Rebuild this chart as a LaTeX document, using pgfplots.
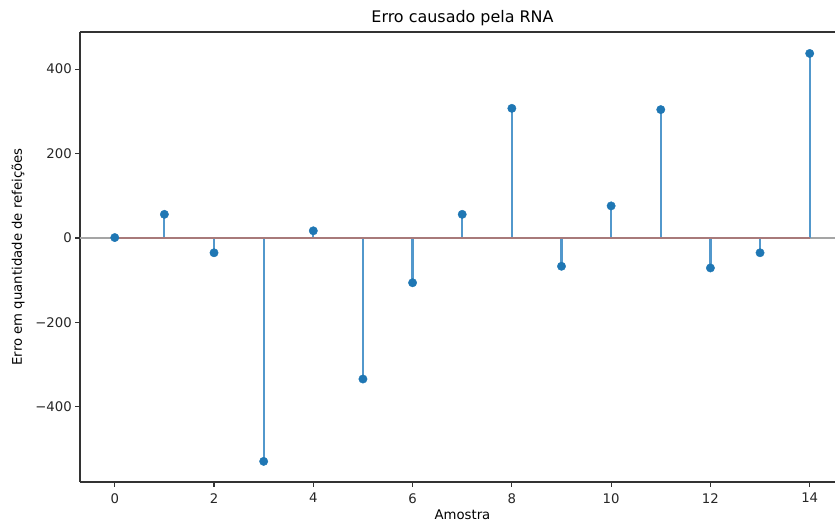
\documentclass[border=0pt]{standalone}
\usepackage{fontspec}
\setmainfont{DejaVu Sans}
\usepackage{pgfplots}
\usepackage{pgfplotstable}
\pgfplotsset{compat=1.18}
\definecolor{stemblue}{RGB}{82,152,204}
\definecolor{mpblue}{RGB}{31,119,180}
\definecolor{baseln}{RGB}{168,122,122}
\definecolor{zeroln}{RGB}{165,165,165}

\pgfplotstableread{
x y
0 1
1 56
2 -35
3 -529
4 17
5 -334
6 -106
7 56
8 307
9 -67
10 76
11 304
12 -71
13 -35
14 437
}\errtable

\begin{document}
\begin{tikzpicture}
\begin{axis}[
  width=755bp, height=450bp, scale only axis,
  xmin=-0.7, xmax=14.51, ymin=-577.8, ymax=487.8,
  axis y line*=left,
  axis line style={line width=1.07bp, black!80},
  xtick={0,2,...,14}, xtick pos=bottom,
  ytick={-400,-200,0,200,400},
  yticklabels={−400,−200,0,200,400},
  tick align=outside, major tick length=4.7bp,
  every tick/.style={black!80, line width=1.07bp},
  tick label style={font=\fontsize{13.3}{16}\selectfont, text=black!85},
  xticklabel style={yshift=-3bp},
  /pgf/number format/assume math mode=true,
  title={Erro causado pela RNA},
  title style={at={(axis description cs:0.5066,1)}, anchor=base, yshift=4bp,
    inner sep=0pt, font=\fontsize{16}{19}\selectfont},
  xlabel={Amostra},
  xlabel style={at={(axis description cs:0.5066,-0.0733)}, anchor=center,
    font=\fontsize{13.3}{16}\selectfont},
  ylabel={Erro em quantidade de refeições},
  ylabel style={at={(axis description cs:-0.082,0.5)}, anchor=center,
    font=\fontsize{13.3}{16}\selectfont},
  clip=false,
]
\addplot[zeroln, line width=2bp] coordinates {(-0.7,0) (14.51,0)};
\addplot[ycomb, stemblue, line width=2.2bp] table[x=x, y=y] {\errtable};
\addplot[baseln, line width=2.4bp] coordinates {(0,0) (14,0)};
\addplot[only marks, mark=*, mark size=4.2bp, mpblue, mark options={draw=mpblue, fill=mpblue}] table[x=x, y=y] {\errtable};
\coordinate (bl) at (rel axis cs:0,0);
\coordinate (tr) at (rel axis cs:1,1);
\end{axis}
\pgfresetboundingbox
\path[use as bounding box] ([xshift=-80bp,yshift=-40bp]bl) rectangle ([yshift=32bp]tr);
\end{tikzpicture}
\end{document}
